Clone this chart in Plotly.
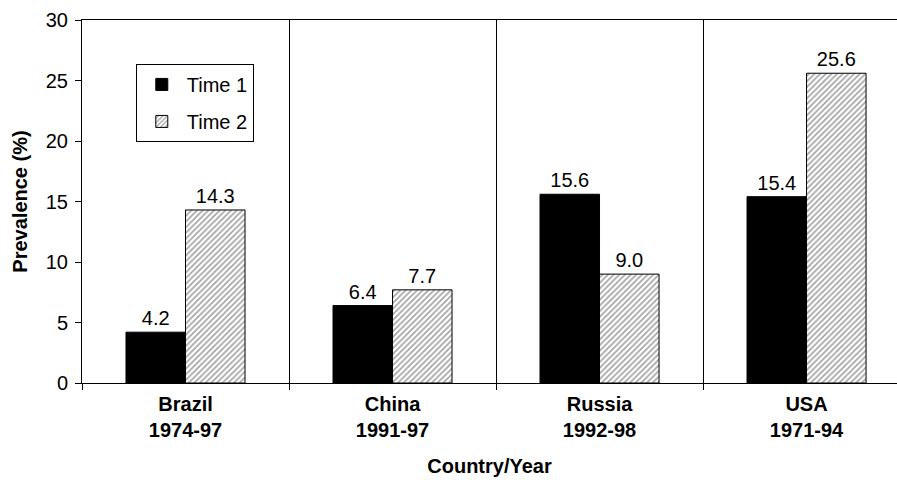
import plotly.graph_objects as go

countries = ["Brazil", "China", "Russia", "USA"]
periods = ["1974-97", "1991-97", "1992-98", "1971-94"]
time1 = [4.2, 6.4, 15.6, 15.4]
time2 = [14.3, 7.7, 9.0, 25.6]

categories = [f"<b>{c}<br>{p}</b>" for c, p in zip(countries, periods)]

font_family = "Liberation Sans, Arial, sans-serif"

fig = go.Figure()
fig.add_trace(go.Bar(
    x=categories, y=time1, name="Time 1", legendgroup="t1",
    marker=dict(color="black", line=dict(color="black", width=1)),
    texttemplate="%{y:.1f}", textposition="outside",
    textfont=dict(size=20, color="black", family=font_family),
    cliponaxis=False,
))
fig.add_trace(go.Bar(
    x=categories, y=time2, name="Time 2", legendgroup="t2",
    marker=dict(color="white", line=dict(color="black", width=1),
                pattern=dict(shape="/", fgcolor="#444444", bgcolor="white",
                             size=4, solidity=0.4)),
    texttemplate="%{y:.1f}", textposition="outside",
    textfont=dict(size=20, color="black", family=font_family),
    cliponaxis=False,
))

fig.update_layout(
    width=897, height=480,
    margin=dict(l=82, r=0, t=20, b=97),
    paper_bgcolor="white", plot_bgcolor="white",
    font=dict(family=font_family, size=20, color="black"),
    barmode="group", bargap=0.425, bargroupgap=0,
    uniformtext=dict(minsize=20),
    legend=dict(
        x=0.066, y=0.879, xanchor="left", yanchor="top",
        bordercolor="black", borderwidth=1, bgcolor="white",
        font=dict(size=20), tracegroupgap=8,
        itemwidth=40,
    ),
)

fig.update_xaxes(
    type="category", range=[-0.5, 3.437],
    tickson="boundaries", ticks="outside", ticklen=6, tickcolor="black",
    showgrid=True, gridcolor="black", gridwidth=1,
    showline=True, linecolor="black", linewidth=1, mirror=True,
    tickfont=dict(size=20), ticklabelstandoff=3,
    title=dict(text="<b>Country/Year</b>", font=dict(size=20), standoff=18),
)
fig.update_yaxes(
    range=[0, 30], dtick=5, tick0=0,
    ticks="outside", ticklen=6, tickcolor="black",
    showgrid=False, zeroline=False,
    showline=True, linecolor="black", linewidth=1,
    tickfont=dict(size=20), ticklabelstandoff=3,
    title=dict(text="<b>Prevalence (%)</b>", font=dict(size=20), standoff=12),
)

fig.write_html("out.html")
